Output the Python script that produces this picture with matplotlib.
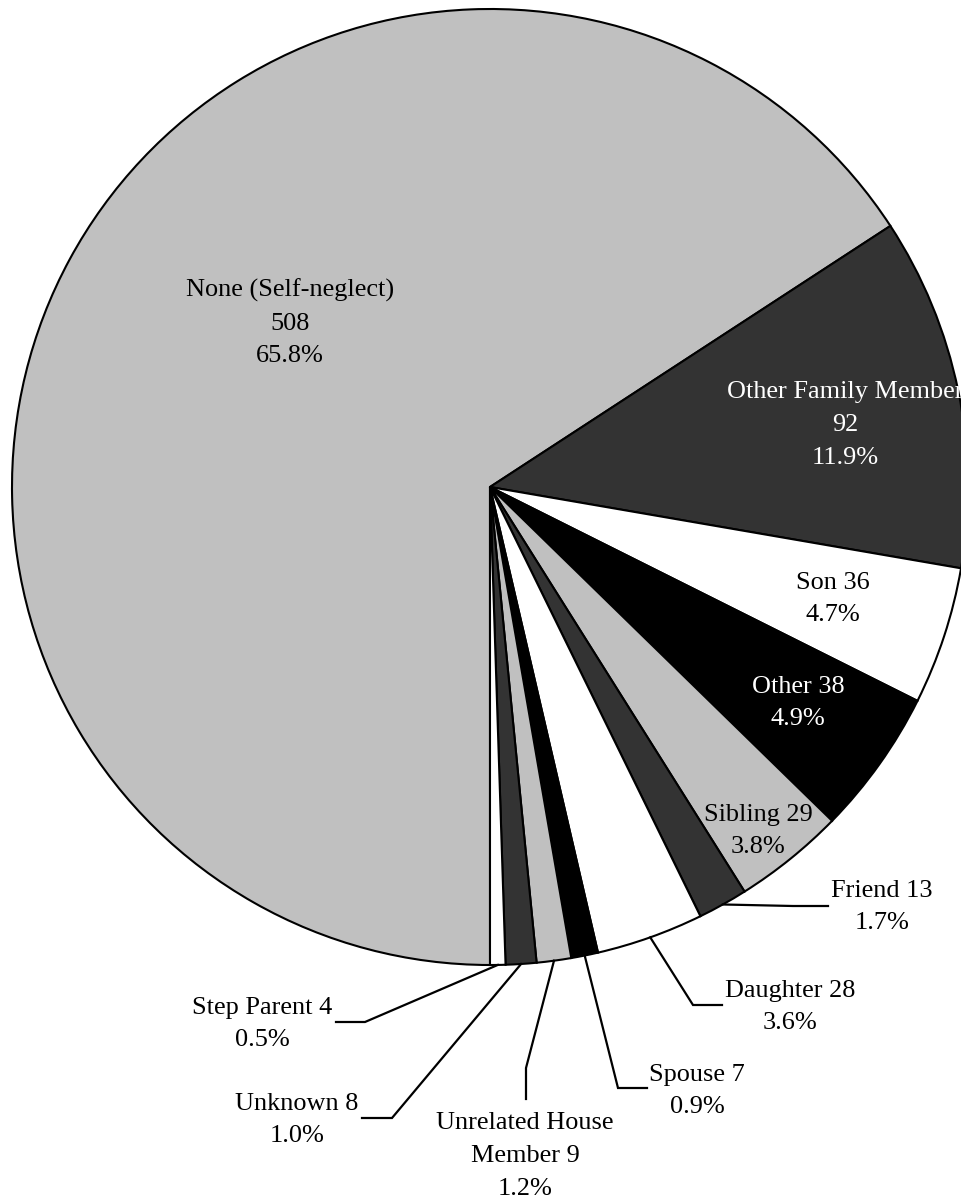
import numpy as np
import matplotlib
matplotlib.use("Agg")
import matplotlib.pyplot as plt

# ---- data ----
categories = ["None (Self-neglect)", "Other Family Member", "Son", "Other", "Sibling",
              "Friend", "Daughter", "Spouse", "Unrelated House Member", "Unknown", "Step Parent"]
values = [508, 92, 36, 38, 29, 13, 28, 7, 9, 8, 4]
label_texts = ["None (Self-neglect)\n508\n65.8%",
               "Other Family Member\n92\n11.9%",
               "Son 36\n4.7%",
               "Other 38\n4.9%",
               "Sibling 29\n3.8%",
               "Friend 13\n1.7%",
               "Daughter 28\n3.6%",
               "Spouse 7\n0.9%",
               "Unrelated House\nMember 9\n1.2%",
               "Unknown 8\n1.0%",
               "Step Parent 4\n0.5%"]

# ---- styles / layout (pixel coordinates, y measured from top) ----
W, H = 961, 1201
palette = ["#C0C0C0", "#333333", "#FFFFFF", "#000000"]
colors = [palette[i % 4] for i in range(len(values))]
text_colors = ["black", "white", "black", "white", "black",
               "black", "black", "black", "black", "black", "black"]
center_px = (490, 487)
radius_px = 478
# label centres
label_pos = [(290, 323), (845, 425), (833, 599), (798, 703), (758, 831),
             (882, 907), (790, 1007), (697, 1091), (525, 1156), (297, 1120), (262, 1024)]
# leader lines: (elbow, end) for outside labels; None for inside labels
leaders = [None, None, None, None, None,
           ((793, 906), (828, 906)),
           ((693, 1005), (722, 1005)),
           ((618, 1088), (647, 1088)),
           ((526, 1068), (526, 1099)),
           ((392, 1118), (362, 1118)),
           ((365, 1022), (336, 1022))]

FONT = ["Liberation Serif", "DejaVu Serif"]
FS = 18.9

def P(x, y):
    return (x, H - y)

fig = plt.figure(figsize=(W / 100, H / 100), dpi=100)
ax = fig.add_axes([0, 0, 1, 1])

wedges, _ = ax.pie(values, colors=colors, startangle=-90, counterclock=False,
                   center=P(*center_px), radius=radius_px,
                   wedgeprops=dict(edgecolor="black", linewidth=1.5),
                   frame=True)
ax.set_xlim(0, W)
ax.set_ylim(0, H)
ax.set_aspect("equal")
ax.axis("off")

cx, cy = P(*center_px)
for i, w in enumerate(wedges):
    tx, ty = P(*label_pos[i])
    if leaders[i] is not None:
        mid = np.deg2rad((w.theta1 + w.theta2) / 2)
        ex = cx + radius_px * np.cos(mid)
        ey = cy + radius_px * np.sin(mid)
        (bx, by), (fx, fy) = leaders[i]
        bx, by = P(bx, by)
        fx, fy = P(fx, fy)
        ax.plot([ex, bx, fx], [ey, by, fy], color="black", lw=1.6,
                solid_joinstyle="miter", zorder=3)
    ax.text(tx, ty, label_texts[i], ha="center", va="center", multialignment="center",
            fontsize=FS, family=FONT, color=text_colors[i], linespacing=1.62, zorder=4)

fig.savefig("out.png", dpi=100, facecolor="white")
